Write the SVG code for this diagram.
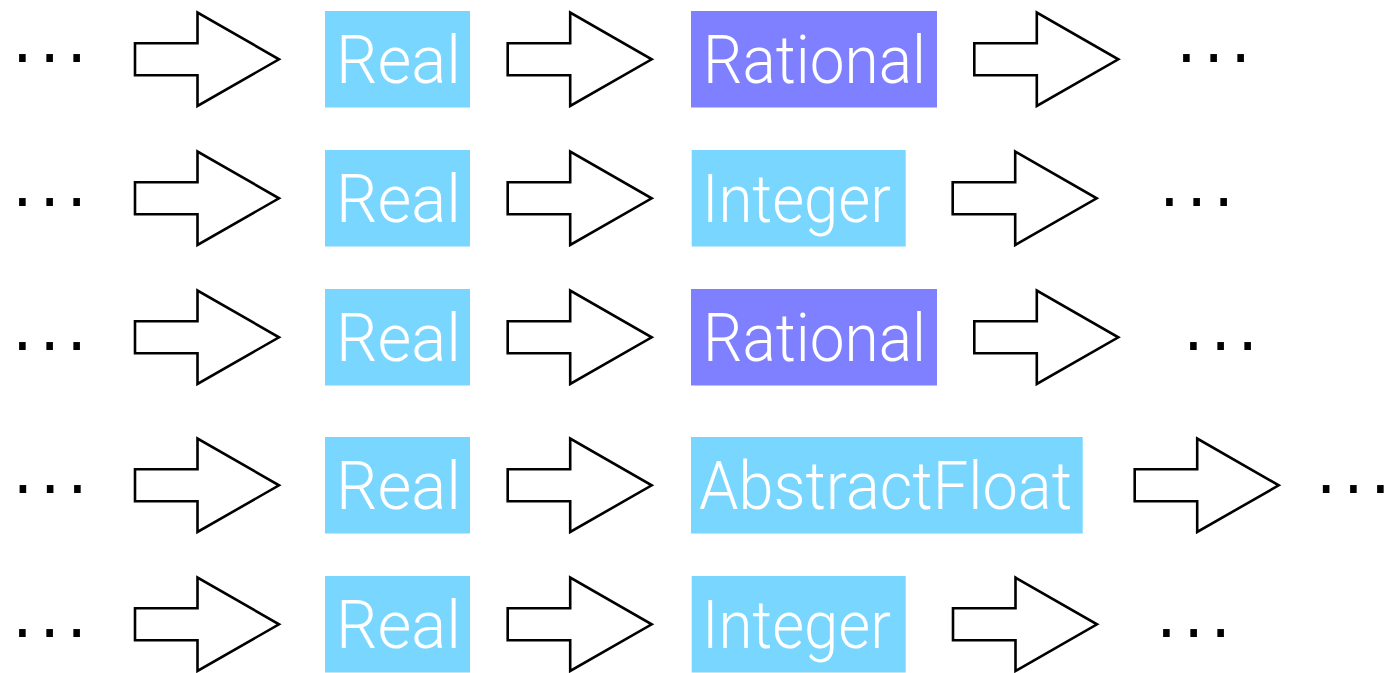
<svg xmlns="http://www.w3.org/2000/svg" xmlns:xlink="http://www.w3.org/1999/xlink" width="1389" height="673" viewBox="0 0 1389 673">
  <style>
    .bg { fill: #ffffff; }
    .box-real { fill: #78D6FF; }
    .box-rat { fill: #7F80FF; }
    .label { font-family: Roboto, "Liberation Sans", sans-serif; font-weight: 300; font-size: 66px; fill: #ffffff; }
    .dots { font-family: "DejaVu Sans", "Liberation Sans", sans-serif; font-size: 64px; fill: #000000; }
    .arrow { fill: #ffffff; stroke: #000000; stroke-width: 2.6; stroke-linejoin: miter; }
  </style>
  <defs>
    <!-- hollow block arrow: origin at tail, vertically centred -->
    <path id="blockArrow" class="arrow" d="M0,-16 H62.5 V-46.7 L144,0 L62.5,46.7 V16 H0 Z"/>
  </defs>

  <rect class="bg" x="0" y="0" width="1389" height="673"/>

  <!-- connectors -->
  <g id="connectors">
    <use xlink:href="#blockArrow" x="135" y="59.3"/>
    <use xlink:href="#blockArrow" x="507.7" y="59.3"/>
    <use xlink:href="#blockArrow" x="974.3" y="59.3"/>

    <use xlink:href="#blockArrow" x="135" y="198.3"/>
    <use xlink:href="#blockArrow" x="507.7" y="198.3"/>
    <use xlink:href="#blockArrow" x="952.7" y="198.3"/>

    <use xlink:href="#blockArrow" x="135" y="337.3"/>
    <use xlink:href="#blockArrow" x="507.7" y="337.3"/>
    <use xlink:href="#blockArrow" x="974.3" y="337.3"/>

    <use xlink:href="#blockArrow" x="135" y="485.3"/>
    <use xlink:href="#blockArrow" x="507.7" y="485.3"/>
    <use xlink:href="#blockArrow" x="1134.7" y="485.3"/>

    <use xlink:href="#blockArrow" x="135" y="624.3"/>
    <use xlink:href="#blockArrow" x="507.7" y="624.3"/>
    <use xlink:href="#blockArrow" x="953" y="624.3"/>
  </g>

  <!-- row 1 -->
  <g id="row1-start"><text class="dots" x="12.2" y="61.8" textLength="74.7" lengthAdjust="spacing">...</text></g>
  <g id="row1-real">
    <rect class="box-real" x="325" y="11" width="145" height="96.5"/>
    <text class="label" x="336" y="83" textLength="125" lengthAdjust="spacingAndGlyphs">Real</text>
  </g>
  <g id="row1-rational">
    <rect class="box-rat" x="691" y="11" width="246" height="96.5"/>
    <text class="label" x="703" y="83" textLength="223" lengthAdjust="spacingAndGlyphs">Rational</text>
  </g>
  <g id="row1-end"><text class="dots" x="1176.2" y="61.8" textLength="74.7" lengthAdjust="spacing">...</text></g>

  <!-- row 2 -->
  <g id="row2-start"><text class="dots" x="12.2" y="205.7" textLength="74.7" lengthAdjust="spacing">...</text></g>
  <g id="row2-real">
    <rect class="box-real" x="325" y="150" width="145" height="96.5"/>
    <text class="label" x="336" y="222" textLength="125" lengthAdjust="spacingAndGlyphs">Real</text>
  </g>
  <g id="row2-integer">
    <rect class="box-real" x="691.7" y="150" width="214" height="96.5"/>
    <text class="label" x="702" y="222" textLength="189" lengthAdjust="spacingAndGlyphs">Integer</text>
  </g>
  <g id="row2-end"><text class="dots" x="1159.2" y="205.7" textLength="74.7" lengthAdjust="spacing">...</text></g>

  <!-- row 3 -->
  <g id="row3-start"><text class="dots" x="12.2" y="350" textLength="74.7" lengthAdjust="spacing">...</text></g>
  <g id="row3-real">
    <rect class="box-real" x="325" y="289" width="145" height="96.5"/>
    <text class="label" x="336" y="361" textLength="125" lengthAdjust="spacingAndGlyphs">Real</text>
  </g>
  <g id="row3-rational">
    <rect class="box-rat" x="691" y="289" width="246" height="96.5"/>
    <text class="label" x="703" y="361" textLength="223" lengthAdjust="spacingAndGlyphs">Rational</text>
  </g>
  <g id="row3-end"><text class="dots" x="1183.2" y="350" textLength="74.7" lengthAdjust="spacing">...</text></g>

  <!-- row 4 -->
  <g id="row4-start"><text class="dots" x="12.8" y="493.3" textLength="74.7" lengthAdjust="spacing">...</text></g>
  <g id="row4-real">
    <rect class="box-real" x="325" y="437" width="145" height="96.5"/>
    <text class="label" x="336" y="509" textLength="125" lengthAdjust="spacingAndGlyphs">Real</text>
  </g>
  <g id="row4-abstractfloat">
    <rect class="box-real" x="691" y="437" width="391.7" height="96.5"/>
    <text class="label" x="699" y="509" textLength="373" lengthAdjust="spacingAndGlyphs">AbstractFloat</text>
  </g>
  <g id="row4-end"><text class="dots" x="1316" y="493.3" textLength="74.7" lengthAdjust="spacing">...</text></g>

  <!-- row 5 -->
  <g id="row5-start"><text class="dots" x="12.2" y="637" textLength="74.7" lengthAdjust="spacing">...</text></g>
  <g id="row5-real">
    <rect class="box-real" x="325" y="576" width="145" height="96.5"/>
    <text class="label" x="336" y="648" textLength="125" lengthAdjust="spacingAndGlyphs">Real</text>
  </g>
  <g id="row5-integer">
    <rect class="box-real" x="691.7" y="576" width="214" height="96.5"/>
    <text class="label" x="702" y="648" textLength="189" lengthAdjust="spacingAndGlyphs">Integer</text>
  </g>
  <g id="row5-end"><text class="dots" x="1156.2" y="637" textLength="74.7" lengthAdjust="spacing">...</text></g>
</svg>
